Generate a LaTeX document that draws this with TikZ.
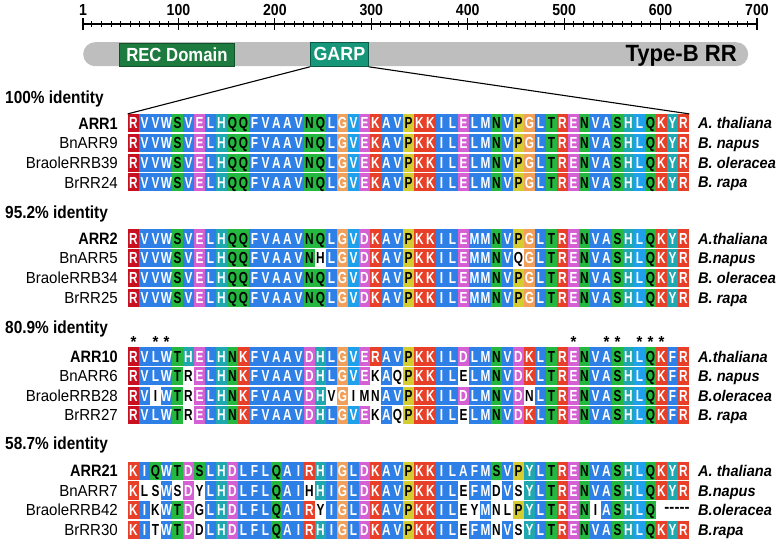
\documentclass[tikz,border=0pt]{standalone}
\usepackage{fontspec}
\setmainfont{Liberation Sans}
\newfontfamily\fnA[FakeStretch=0.74]{Liberation Sans}
\newfontfamily\fnB[FakeStretch=0.88]{Liberation Sans}
\newfontfamily\fnC[FakeStretch=0.94]{Liberation Sans}

\definecolor{cblue}{RGB}{47,128,230}
\definecolor{cltblue}{RGB}{30,160,235}
\definecolor{cred}{RGB}{232,64,40}
\definecolor{cdkred}{RGB}{200,16,32}
\definecolor{cmag}{RGB}{212,96,212}
\definecolor{cgreen}{RGB}{36,184,64}
\definecolor{cteal}{RGB}{32,168,176}
\definecolor{corange}{RGB}{240,160,90}
\definecolor{cyellow}{RGB}{212,204,48}
\definecolor{barcol}{RGB}{190,190,190}
\definecolor{recgreen}{RGB}{30,123,63}
\definecolor{garpgreen}{RGB}{23,151,122}
\definecolor{recborder}{RGB}{15,80,40}
\definecolor{garpborder}{RGB}{10,90,70}

\makeatletter
\newcount\rescnt
\newcommand\defres[4]{%
  \expandafter\def\csname rlt@#1\endcsname{#2}%
  \expandafter\def\csname rbg@#1\endcsname{#3}%
  \expandafter\def\csname rfg@#1\endcsname{#4}}
\newcommand\resrow[3]{%
  \global\rescnt=0
  \@tfor\res@c:=#3\do{%
    \global\advance\rescnt by 1
    \edef\res@bg{\csname rbg@\res@c\endcsname}%
    \edef\res@fg{\csname rfg@\res@c\endcsname}%
    \edef\res@lt{\csname rlt@\res@c\endcsname}%
    \edef\res@nm{#1c\the\rescnt}%
    \pgfmathsetmacro\res@x{128+(\the\rescnt-0.5)*11}%
    \node[rescell, fill=\res@bg, text=\res@fg] (\res@nm) at (\res@x,#2) {\res@lt};%
  }}
\makeatother
\newcommand\astbox{\makebox[11pt]{*}}

\defres{A}{A}{cblue}{white}
\defres{V}{V}{cblue}{white}
\defres{L}{L}{cblue}{white}
\defres{I}{I}{cblue}{white}
\defres{M}{M}{cblue}{white}
\defres{F}{F}{cblue}{white}
\defres{W}{W}{cblue}{white}
\defres{1}{L}{cltblue}{white}
\defres{2}{V}{cltblue}{white}
\defres{K}{K}{cred}{white}
\defres{R}{R}{cred}{white}
\defres{Z}{R}{cdkred}{white}
\defres{D}{D}{cmag}{white}
\defres{E}{E}{cmag}{white}
\defres{N}{N}{cgreen}{black}
\defres{Q}{Q}{cgreen}{black}
\defres{S}{S}{cgreen}{black}
\defres{T}{T}{cgreen}{black}
\defres{G}{G}{corange}{white}
\defres{P}{P}{cyellow}{black}
\defres{H}{H}{cteal}{white}
\defres{Y}{Y}{cteal}{white}
\defres{d}{D}{white}{black}
\defres{e}{E}{white}{black}
\defres{g}{G}{white}{black}
\defres{h}{H}{white}{black}
\defres{i}{I}{white}{black}
\defres{k}{K}{white}{black}
\defres{l}{L}{white}{black}
\defres{m}{M}{white}{black}
\defres{n}{N}{white}{black}
\defres{q}{Q}{white}{black}
\defres{r}{R}{white}{black}
\defres{s}{S}{white}{black}
\defres{t}{T}{white}{black}
\defres{v}{V}{white}{black}
\defres{y}{Y}{white}{black}

\tikzset{
  rescell/.style={inner sep=0pt, minimum width=11.3pt, minimum height=18.2pt,
    text height=11.5pt, text depth=0pt, font=\fnA\bfseries\fontsize{16}{16}\selectfont},
  seqlab/.style={inner sep=0pt, anchor=east, text height=11.5pt, text depth=0pt,
    font=\fnC\fontsize{16}{16}\selectfont},
  seqlabb/.style={inner sep=0pt, anchor=east, text height=11.8pt, text depth=0pt,
    font=\fnB\bfseries\fontsize{16.5}{16.5}\selectfont},
  speciesname/.style={inner sep=0pt, anchor=west, text height=11.1pt, text depth=0pt,
    font=\fnC\bfseries\itshape\fontsize{15.5}{15.5}\selectfont},
  grouphead/.style={inner sep=0pt, anchor=west, text height=12.5pt, text depth=0pt,
    font=\fnB\bfseries\fontsize{17.5}{17.5}\selectfont},
  rulelab/.style={inner sep=0pt, text height=11.4pt, text depth=0pt,
    font=\fnB\bfseries\fontsize{16}{16}\selectfont},
  asterisknode/.style={inner sep=0pt, anchor=base, text depth=0pt,
    font=\fnC\bfseries\fontsize{16}{16}\selectfont},
  domainbox/.style={inner sep=0pt, anchor=north west, text=white, line width=0.8pt},
}

\begin{document}
\begin{tikzpicture}[x=1pt,y=-1pt]
\useasboundingbox (0,0) rectangle (780,551);

% ruler
\draw[line width=1.1pt] (83,24) -- (757,24);
\foreach \v in {10,20,...,690}
  \draw[line width=0.9pt] ({83+(\v-1)*0.9642},21) -- ({83+(\v-1)*0.9642},27);
\foreach \v in {1,100,200,...,700}{
  \draw[line width=1.1pt] ({83+(\v-1)*0.9642},18) -- ({83+(\v-1)*0.9642},30);
  \node[rulelab] (rl\v) at ({83+(\v-1)*0.9642},9.5) {\v};
}

% protein bar
\node[fill=barcol, rounded corners=12pt, minimum width=665pt, minimum height=24pt,
  inner sep=0pt, anchor=north west] (bar) at (83,42) {};
\node[domainbox, fill=recgreen, draw=recborder, minimum width=115pt,
  minimum height=23pt, font=\fnB\bfseries\fontsize{19}{19}\selectfont] (rec) at (119,43) {REC Domain};
\node[domainbox, fill=garpgreen, draw=garpborder, minimum width=58pt,
  minimum height=24pt, font=\fnC\bfseries\fontsize{19}{19}\selectfont] (garp) at (310,42) {GARP};
\node[inner sep=0pt, anchor=east, text height=16.8pt, text depth=0pt,
  font=\fnC\bfseries\fontsize{23.5}{23.5}\selectfont] (typeb) at (737,53) {Type-B RR};

% headers
\node[grouphead] (h1) at (5,97) {100\% identity};
\node[grouphead] (h2) at (5,212) {95.2\% identity};
\node[grouphead] (h3) at (5,327.5) {80.9\% identity};
\node[grouphead] (h4) at (5,443.5) {58.7\% identity};

% group 1
\resrow{a1}{123.2}{Z V V W S V E L H Q Q F V A A V N Q L G 2 E K A V P K K I L E L M N V P G L T R E N V A S H 1 Q K Y R}
\resrow{a2}{142.9}{Z V V W S V E L H Q Q F V A A V N Q L G 2 E K A V P K K I L E L M N V P G L T R E N V A S H 1 Q K Y R}
\resrow{a3}{162.6}{Z V V W S V E L H Q Q F V A A V N Q L G 2 E K A V P K K I L E L M N V P G L T R E N V A S H 1 Q K Y R}
\resrow{a4}{182.3}{Z V V W S V E L H Q Q F V A A V N Q L G 2 E K A V P K K I L E L M N V P G L T R E N V A S H 1 Q K Y R}
% group 2
\resrow{b1}{238.5}{Z V V W S V E L H Q Q F V A A V N Q L G 2 D K A V P K K I L E M M N V P G L T R E N V A S H 1 Q K Y R}
\resrow{b2}{258.2}{Z V V W S V E L H Q Q F V A A V N h L G 2 D K A V P K K I L E M M N V q G L T R E N V A S H 1 Q K Y R}
\resrow{b3}{277.9}{Z V V W S V E L H Q Q F V A A V N Q L G 2 D K A V P K K I L E M M N V P G L T R E N V A S H 1 Q K Y R}
\resrow{b4}{297.6}{Z V V W S V E L H Q Q F V A A V N Q L G 2 D K A V P K K I L E M M N V P G L T R E N V A S H 1 Q K Y R}
% group 3
\resrow{c1}{356.5}{Z V L W T H E L H N K F V A A V D H L G 2 E R A V P K K I L D L M N V D K L T R E N V A S H 1 Q K F R}
\resrow{c2}{376.0}{Z V L W T r E L H N K F V A A V D H L G 2 E k A q P K K I L e L M N V D K L T R E N V A S H 1 Q K F R}
\resrow{c3}{395.6}{Z V i W T r E L H N K F V A A V D H v G i m n A V P K K I L D L M N V D n L T R E N V A S H 1 Q K F R}
\resrow{c4}{415.2}{Z V L W T r E L H N K F V A A V D H L G 2 E k A q P K K I L e L M N V D K L T R E N V A S H 1 Q K F R}
% group 4
\resrow{d1}{470.8}{K I Q W T D S L H D L F L Q A I R H I G L D K A V P K K I L A F M S V P Y L T R E N V A S H 1 Q K Y R}
\resrow{d2}{490.5}{K l s W s D y L H D L F L Q A I h H I G L D K A V P K K I L e F M d V s Y L T R E N V A S H 1 Q K Y R}
\resrow{d3}{510.2}{K I k W T D g L H D L F L Q A I R y I G L D K A V P K K I L e y M n l P Y L T R E N i A S H 1 Q}
\resrow{d4}{529.9}{K I t W T D d L H D L F L Q A I R H I G L D K A V P K K I L e F M n V s Y L T R E N V A S H 1 Q K Y R}
\node[inner sep=0pt, font=\fnC\bfseries\fontsize{16}{16}\selectfont] (gapdash) at (677,510.2) {-{}-{}-{}-{}-};

% asterisks (conserved positions)
\node[asterisknode] (st1) at ({128+0.5*11},347) {*};
\node[asterisknode] (st34) at ({128+3*11},347) {\astbox\astbox};
\node[asterisknode] (st41) at ({128+40.5*11},347) {*};
\node[asterisknode] (st4445) at ({128+44*11},347) {\astbox\astbox};
\node[asterisknode] (st4749) at ({128+47.5*11},347) {\astbox\astbox\astbox};

% zoom lines
\draw[line width=1.1pt] (garp.south west) -- (a1c1.north west);
\draw[line width=1.1pt] (garp.south east) -- (a1c51.north east);

% sequence labels
\node[seqlabb] (n11) at (118,123.2) {ARR1};
\node[seqlab] (n12) at (118,142.9) {BnARR9};
\node[seqlab] (n13) at (118,162.6) {BraoleRRB39};
\node[seqlab] (n14) at (118,182.3) {BrRR24};
\node[seqlabb] (n21) at (118,238.5) {ARR2};
\node[seqlab] (n22) at (118,258.2) {BnARR5};
\node[seqlab] (n23) at (118,277.9) {BraoleRRB34};
\node[seqlab] (n24) at (118,297.6) {BrRR25};
\node[seqlabb] (n31) at (118,356.5) {ARR10};
\node[seqlab] (n32) at (118,376.0) {BnARR6};
\node[seqlab] (n33) at (118,395.6) {BraoleRRB28};
\node[seqlab] (n34) at (118,415.2) {BrRR27};
\node[seqlabb] (n41) at (118,470.8) {ARR21};
\node[seqlab] (n42) at (118,490.5) {BnARR7};
\node[seqlab] (n43) at (118,510.2) {BraoleRRB42};
\node[seqlab] (n44) at (118,529.9) {BrRR30};

% species
\node[speciesname] (s11) at (698,123.2) {A. thaliana};
\node[speciesname] (s12) at (698,142.9) {B. napus};
\node[speciesname] (s13) at (698,162.6) {B. oleracea};
\node[speciesname] (s14) at (698,182.3) {B. rapa};
\node[speciesname] (s21) at (698,238.5) {A.thaliana};
\node[speciesname] (s22) at (698,258.2) {B.napus};
\node[speciesname] (s23) at (698,277.9) {B. oleracea};
\node[speciesname] (s24) at (698,297.6) {B. rapa};
\node[speciesname] (s31) at (698,356.5) {A.thaliana};
\node[speciesname] (s32) at (698,376.0) {B. napus};
\node[speciesname] (s33) at (698,395.6) {B.oleracea};
\node[speciesname] (s34) at (698,415.2) {B. rapa};
\node[speciesname] (s41) at (698,470.8) {A. thaliana};
\node[speciesname] (s42) at (698,490.5) {B.napus};
\node[speciesname] (s43) at (698,510.2) {B.oleracea};
\node[speciesname] (s44) at (698,529.9) {B.rapa};
\end{tikzpicture}
\end{document}
